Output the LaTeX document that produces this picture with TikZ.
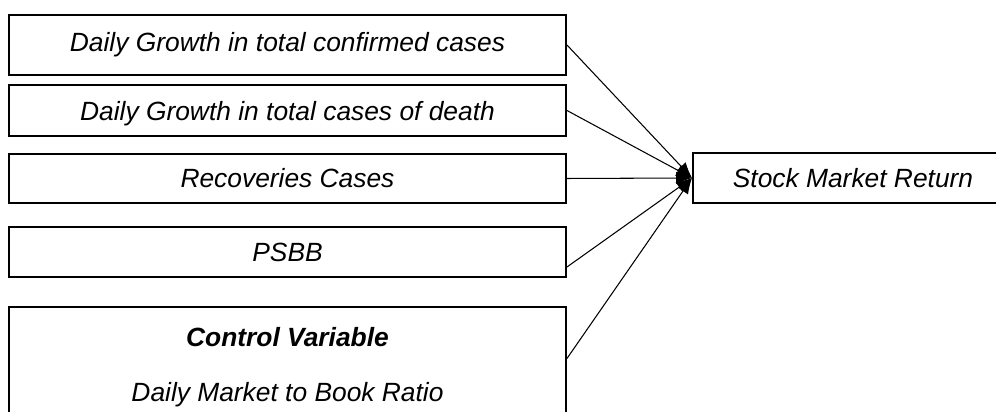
\documentclass[tikz,border=0pt]{standalone}
\usepackage{fontspec}
\setmainfont{Liberation Sans}
\usepackage{tikz}
\usetikzlibrary{arrows.meta, positioning, calc}
\tikzstyle{arrow} = [->,>={Latex[length=9pt,width=7pt]},line width=0.6pt]
\tikzstyle{varbox} = [draw, line width=1.1pt, minimum width=11.14cm, font=\fontsize{15}{18}\selectfont\itshape]

\begin{document}
\begin{tikzpicture}
\useasboundingbox (0,0) rectangle (19.92,8.24);

% Independent variables
\node[varbox, minimum height=1.2cm] (confirmed) at (5.75,7.34) {Daily Growth in total confirmed cases};
\node[varbox, minimum height=1.02cm, text height=15pt] (death) at (5.75,6.03) {Daily Growth in total cases of death};
\node[varbox, minimum height=0.98cm] (recover) at (5.75,4.67) {Recoveries Cases};
\node[varbox, minimum height=1.0cm] (psbb) at (5.75,3.2) {PSBB};

% Control variable (runs off the bottom edge)
\node[varbox, minimum height=2.4cm, align=center] (control) at (5.75,0.9)
  {\textbf{Control Variable}\\[13pt]Daily Market to Book Ratio};

% Dependent variable (runs off the right edge)
\node[varbox, minimum width=6.4cm, minimum height=1.0cm] (stock) at (17.06,4.68) {Stock Market Return};

% Arrows
\draw[arrow] (confirmed.east) -- (stock.west);
\draw[arrow] (death.east) -- (stock.west);
\draw[arrow] (recover.east) -- (stock.west);
\draw[arrow] ([yshift=-0.3cm]psbb.east) -- (stock.west);
\draw[arrow] ([yshift=0.17cm]control.east) -- (stock.west);
\end{tikzpicture}
\end{document}
